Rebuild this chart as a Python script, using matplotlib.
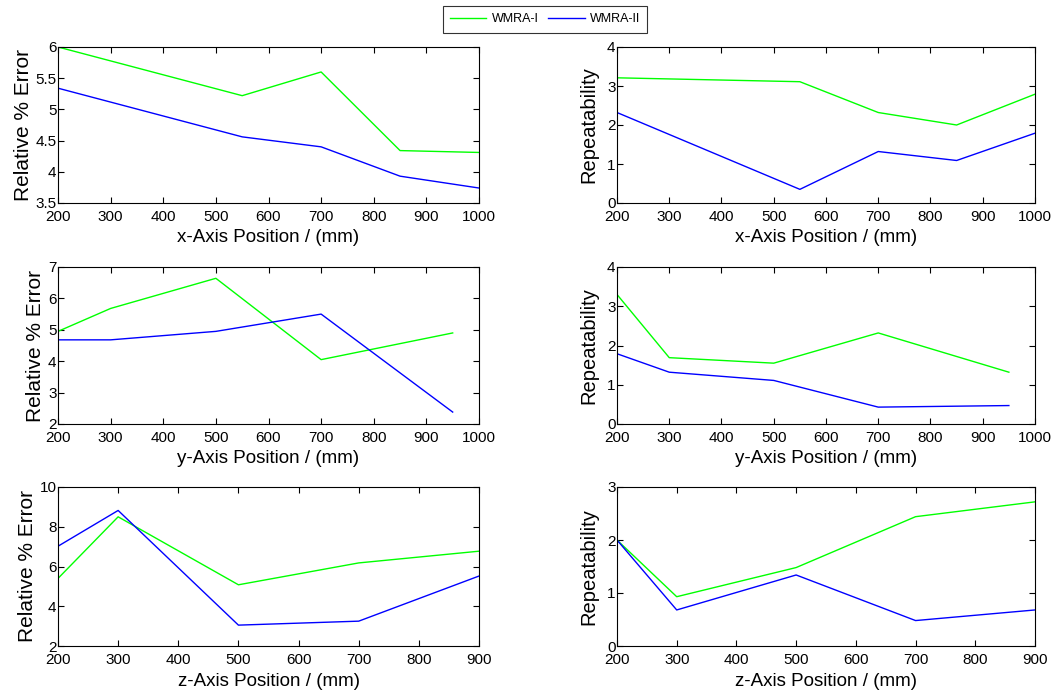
import numpy as np
import matplotlib.pyplot as plt

plt.rcParams['font.family'] = ['Liberation Sans', 'DejaVu Sans']

# ==================== data ====================
x_pos = [200, 550, 700, 850, 1000]
y_pos = [200, 300, 500, 700, 950]
z_pos = [200, 300, 500, 700, 900]

x_err_1 = [6.0, 5.22, 5.6, 4.34, 4.31]
x_err_2 = [5.34, 4.56, 4.4, 3.93, 3.74]
x_rep_1 = [3.21, 3.11, 2.32, 2.0, 2.79]
x_rep_2 = [2.32, 0.35, 1.32, 1.09, 1.79]

y_err_1 = [4.95, 5.68, 6.64, 4.05, 4.9]
y_err_2 = [4.68, 4.68, 4.95, 5.5, 2.38]
y_rep_1 = [3.3, 1.69, 1.55, 2.32, 1.32]
y_rep_2 = [1.79, 1.32, 1.11, 0.43, 0.47]

z_err_1 = [5.4, 8.5, 5.08, 6.18, 6.77]
z_err_2 = [7.02, 8.82, 3.05, 3.25, 5.52]
z_rep_1 = [2.0, 0.93, 1.48, 2.44, 2.72]
z_rep_2 = [2.0, 0.68, 1.34, 0.48, 0.68]

series_names = ['WMRA-I', 'WMRA-II']

# rows: (positions, err1, err2, rep1, rep2, xlabel, xlim, err ylim, err yticks, rep ylim)
rows = [
    (x_pos, x_err_1, x_err_2, x_rep_1, x_rep_2, 'x-Axis Position / (mm)',
     (200, 1000), (3.5, 6), [3.5, 4, 4.5, 5, 5.5, 6], (0, 4)),
    (y_pos, y_err_1, y_err_2, y_rep_1, y_rep_2, 'y-Axis Position / (mm)',
     (200, 1000), (2, 7), [2, 3, 4, 5, 6, 7], (0, 4)),
    (z_pos, z_err_1, z_err_2, z_rep_1, z_rep_2, 'z-Axis Position / (mm)',
     (200, 900), (2, 10), [2, 4, 6, 8, 10], (0, 3)),
]

fig = plt.figure(figsize=(10.63, 6.94), dpi=100)

W, H = 1063, 694
left_x = (58, 479)
right_x = (617, 1035)
row_y = [(47, 203), (267, 424), (487, 646)]


def style_axes(ax):
    ax.tick_params(direction='in', top=True, right=True, labelsize=11, length=4, pad=1)
    ax.tick_params(axis='x', pad=5)
    for s in ax.spines.values():
        s.set_linewidth(0.8)


lines = None
for (pos, e1, e2, r1, r2, xlab, xl, eyl, eyt, ryl), (top, bot) in zip(rows, row_y):
    b = 1 - bot / H
    h = (bot - top) / H

    ax = fig.add_axes([left_x[0] / W, b, (left_x[1] - left_x[0]) / W, h])
    l1, = ax.plot(pos, e1, color=(0, 1, 0), lw=1)
    l2, = ax.plot(pos, e2, color=(0, 0, 1), lw=1)
    lines = (l1, l2)
    ax.set_xlim(*xl)
    ax.set_ylim(*eyl)
    ax.set_yticks(eyt)
    ax.set_yticklabels([f'{v:g}' for v in eyt])
    ax.set_xticks(np.arange(xl[0], xl[1] + 1, 100))
    ax.set_xlabel(xlab, fontsize=13.5, labelpad=4)
    ax.set_ylabel('Relative % Error', fontsize=15, labelpad=2)
    style_axes(ax)

    ax = fig.add_axes([right_x[0] / W, b, (right_x[1] - right_x[0]) / W, h])
    ax.plot(pos, r1, color=(0, 1, 0), lw=1)
    ax.plot(pos, r2, color=(0, 0, 1), lw=1)
    ax.set_xlim(*xl)
    ax.set_ylim(*ryl)
    ax.set_yticks(np.arange(ryl[0], ryl[1] + 1, 1))
    ax.set_xticks(np.arange(xl[0], xl[1] + 1, 100))
    ax.set_xlabel(xlab, fontsize=13.5, labelpad=4)
    ax.set_ylabel('Repeatability', fontsize=14.5, labelpad=6)
    style_axes(ax)

leg = fig.legend(lines, series_names, loc='center', bbox_to_anchor=(545 / W, 1 - 19 / H),
                 ncol=2, fontsize=9, frameon=True, fancybox=False, edgecolor='black',
                 handlelength=2.9, handletextpad=0.4, columnspacing=0.8, borderpad=0.6,
                 borderaxespad=0)
leg.get_frame().set_linewidth(0.8)

fig.savefig('out.png', dpi=100)
